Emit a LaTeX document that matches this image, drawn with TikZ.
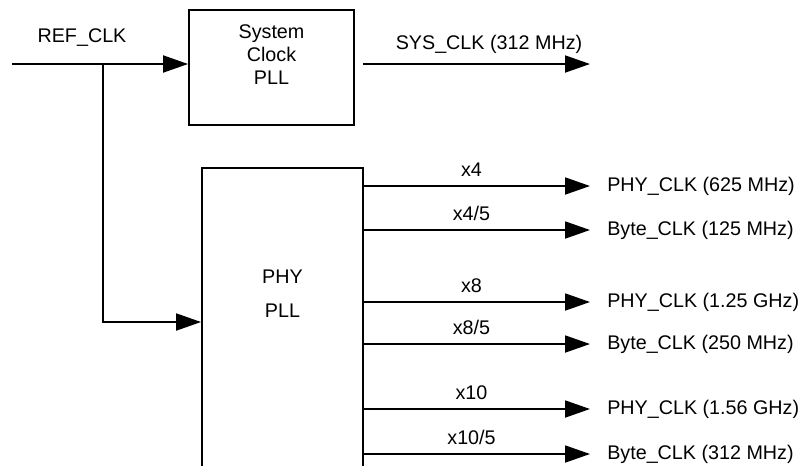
\documentclass[tikz,border=0pt]{standalone}
\usepackage{fontspec}
\setmainfont{Liberation Sans}
\usepackage{tikz}
\usetikzlibrary{arrows.meta}

\begin{document}
\begin{tikzpicture}[
    x=0.75pt, y=-0.75pt,
    sigtext/.style={font=\fontsize{14.8}{17.3}\selectfont},
    pllbox/.style={draw, line width=1.4pt, inner sep=0pt},
    blocktext/.style={sigtext, align=center},
    clksig/.style={line width=1.4pt, -{Triangle[length=18.75pt, width=12.75pt]}},
    outlabel/.style={sigtext, anchor=west, inner sep=3pt},
    multlabel/.style={sigtext, pos=0.45, anchor=base, yshift=7.5pt}
]

% Bildausschnitt (PHY PLL laeuft unten aus dem Bild)
\clip (0,0) rectangle (798,465);

% ----------------------------------------------------------
% Bloecke
% ----------------------------------------------------------
\node[pllbox, minimum width=123.75pt, minimum height=86.25pt] (sys)
    at (271.5,67.5) {};
\node[blocktext] (systext) at (271.5,55) {System\\Clock\\PLL};

\node[pllbox, minimum width=120.75pt, minimum height=231pt] (phy)
    at (282.5,322) {};
\node[blocktext, font=\fontsize{14.8}{25.5}\selectfont] (phytext)
    at (282.5,294) {PHY\\PLL};

% ----------------------------------------------------------
% Referenztakt
% ----------------------------------------------------------
\coordinate (refin) at (12,64);
\coordinate (refsplit) at (103,64);
\node[sigtext, anchor=base] (reflabel) at (82,42) {REF\_CLK};
\draw[clksig] (refin) -- (refin -| sys.west);
\draw[clksig] (refsplit) |- (phy.west);

% ----------------------------------------------------------
% Systemtakt
% ----------------------------------------------------------
\coordinate (sysout) at (590,64);
\node[sigtext, anchor=base] (syslabel) at (489,49) {SYS\_CLK (312 MHz)};
\draw[clksig, shorten <=6pt] (sys.east |- sysout) -- (sysout);

% ----------------------------------------------------------
% PHY-Takte
% ----------------------------------------------------------
\foreach \n/\py/\mult/\clk in {
    1/186/{x4}/{PHY\_CLK (625 MHz)},
    2/230/{x4/5}/{Byte\_CLK (125 MHz)},
    3/302/{x8}/{PHY\_CLK (1.25 GHz)},
    4/344/{x8/5}/{Byte\_CLK (250 MHz)},
    5/409/{x10}/{PHY\_CLK (1.56 GHz)},
    6/454/{x10/5}/{Byte\_CLK (312 MHz)}} {
    \node[outlabel] (out\n) at (603,\py) {\clk};
    \draw[clksig, shorten >=9.75pt] (phy.east |- out\n) -- (out\n.west)
        node[multlabel] {\mult};
}

\end{tikzpicture}
\end{document}
